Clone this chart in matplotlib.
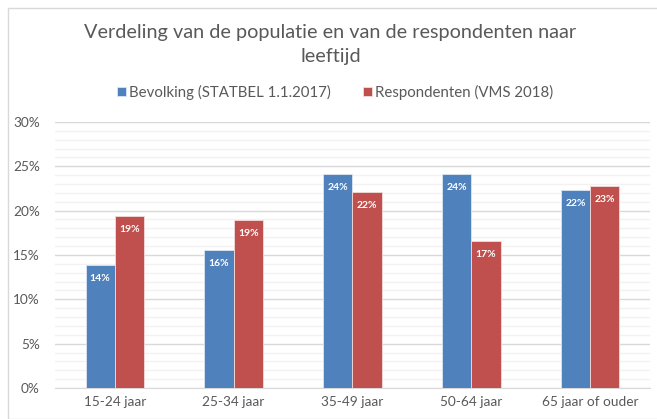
import matplotlib.pyplot as plt
import numpy as np
from matplotlib.patches import Rectangle
from matplotlib.ticker import MultipleLocator, PercentFormatter

plt.rcParams['font.family'] = ['Lato', 'DejaVu Sans']

categories = ["15-24 jaar", "25-34 jaar", "35-49 jaar", "50-64 jaar", "65 jaar of ouder"]
bevolking = [13.9, 15.6, 24.1, 24.1, 22.3]
respondenten = [19.4, 18.9, 22.1, 16.6, 22.8]
series_names = ["Bevolking (STATBEL 1.1.2017)", "Respondenten (VMS 2018)"]

BLUE = "#4F81BD"
RED = "#C0504D"
TEXT = "#595959"

fig = plt.figure(figsize=(6.57, 4.19), dpi=100)
# light frame around the chart
fig.patches.append(Rectangle((8 / 657, 0), 1, 1 - 8 / 419, transform=fig.transFigure,
                             fill=False, edgecolor="#D9D9D9", linewidth=1))

ax = fig.add_axes([0.084, 0.074, 0.905, 0.635])

x = np.arange(len(categories))
w = 0.245
b1 = ax.bar(x - w / 2, bevolking, w, color=BLUE, edgecolor="#DCE6F2", linewidth=0.6, zorder=3,
            label=series_names[0])
b2 = ax.bar(x + w / 2, respondenten, w, color=RED, edgecolor="#F2DCDB", linewidth=0.6, zorder=3,
            label=series_names[1])

for bars in (b1, b2):
    for rect in bars:
        h = rect.get_height()
        ax.annotate(f"{h:.0f}%", (rect.get_x() + rect.get_width() / 2, h),
                    xytext=(0, -13), textcoords="offset points", ha="center", va="bottom",
                    color="white", fontsize=7.5, fontweight="bold", zorder=4)

ax.set_ylim(0, 30)
ax.set_xlim(-0.5, len(categories) - 0.5)
ax.yaxis.set_major_locator(MultipleLocator(5))
ax.yaxis.set_minor_locator(MultipleLocator(1))
ax.yaxis.set_major_formatter(PercentFormatter(decimals=0))
ax.grid(axis="y", which="major", color="#D9D9D9", linewidth=1, zorder=0)
ax.grid(axis="y", which="minor", color="#F2F2F2", linewidth=1, zorder=0)
ax.set_xticks(x)
ax.set_xticklabels(categories)
ax.tick_params(axis="both", which="both", length=0, colors=TEXT, labelsize=9.8)
ax.tick_params(axis="y", pad=11)
ax.tick_params(axis="x", pad=6)
for s in ("top", "right", "left"):
    ax.spines[s].set_visible(False)
ax.spines["bottom"].set_color("#D9D9D9")

fig.text(0.503, 0.894, "Verdeling van de populatie en van de respondenten naar\nleeftijd",
         ha="center", va="center", fontsize=14.3, color=TEXT, linespacing=1.45)

fig.legend(handles=[b1, b2], loc="center", bbox_to_anchor=(0.51, 0.78), ncol=2, frameon=False,
           fontsize=10.8, labelcolor=TEXT, handlelength=0.6, handleheight=0.6,
           handletextpad=0.2, columnspacing=2.2)

fig.savefig("out.png", dpi=100)
